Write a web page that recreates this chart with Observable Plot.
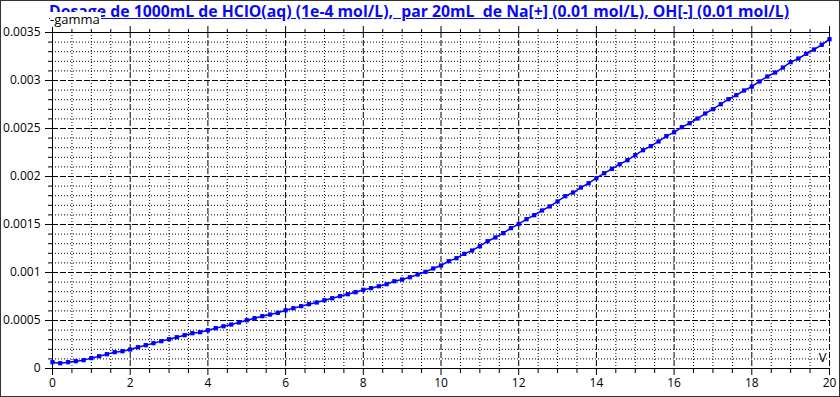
<!DOCTYPE html>
<html>
<head>
<meta charset="utf-8">
<script src="https://cdn.jsdelivr.net/npm/d3@7"></script>
<script src="https://cdn.jsdelivr.net/npm/@observablehq/plot@0.6"></script>
<style>
  html, body { margin: 0; padding: 0; background: white; }
  #wrap { position: relative; width: 840px; height: 397px; overflow: hidden; background: white; }
  #title { position: absolute; left: 49px; top: 0px; white-space: pre; font: bold 15.8px "Open Sans", sans-serif; line-height: 22px; color: #0a0aef; text-decoration: underline; }
  #ylab { position: absolute; left: 50px; top: 12px; background: white; font: 13px "Open Sans", sans-serif; color: #000; line-height: 15px; padding-right: 1px; }
  #frame { position: absolute; left: 0; top: 0; width: 840px; height: 397px; box-sizing: border-box; border: 1px solid #333; pointer-events: none; }
</style>
</head>
<body>
<div id="wrap">
  <div id="chart"></div>
  <div id="title"></div>
  <div id="ylab"></div>
  <div id="frame"></div>
</div>
<script>
const titleText = "Dosage de 1000mL de HClO(aq) (1e-4 mol/L),  par 20mL  de Na[+] (0.01 mol/L), OH[-] (0.01 mol/L)";
const yName = "-gamma";
const xName = "V";

const volume = [0,0.2,0.4,0.6,0.8,1,1.2,1.4,1.6,1.8,2,2.2,2.4,2.6,2.8,3,3.2,3.4,3.6,3.8,
  4,4.2,4.4,4.6,4.8,5,5.2,5.4,5.6,5.8,6,6.2,6.4,6.6,6.8,7,7.2,7.4,7.6,7.8,
  8,8.2,8.4,8.6,8.8,9,9.2,9.4,9.6,9.8,10,10.2,10.4,10.6,10.8,11,11.2,11.4,11.6,11.8,
  12,12.2,12.4,12.6,12.8,13,13.2,13.4,13.6,13.8,14,14.2,14.4,14.6,14.8,15,15.2,15.4,15.6,15.8,
  16,16.2,16.4,16.6,16.8,17,17.2,17.4,17.6,17.8,18,18.2,18.4,18.6,18.8,19,19.2,19.4,19.6,19.8,20];

const gamma = [0.000066,0.000055,0.000066,0.000076,0.000087,0.000108,0.000128,0.000149,0.00017,0.00018,
  0.000198,0.000222,0.000243,0.000264,0.000285,0.000305,0.000326,0.000347,0.000368,0.000378,
  0.000398,0.00042,0.00044,0.000458,0.000479,0.000503,0.000524,0.000545,0.000562,0.00058,
  0.000607,0.000628,0.000649,0.00067,0.000688,0.000711,0.000732,0.000753,0.000774,0.000795,
  0.00082,0.000837,0.000857,0.000878,0.000909,0.000927,0.000951,0.000979,0.001007,0.001042,
  0.001073,0.001118,0.001149,0.001194,0.001229,0.001274,0.001326,0.001365,0.00141,0.001462,
  0.001505,0.001555,0.001597,0.001646,0.001688,0.00174,0.001795,0.001833,0.001885,0.00193,
  0.001982,0.002034,0.00208,0.002128,0.00217,0.002222,0.002274,0.002316,0.002365,0.00242,
  0.00246,0.002514,0.002555,0.002604,0.002656,0.002701,0.002753,0.002805,0.002847,0.002896,
  0.002937,0.00299,0.003042,0.003083,0.003135,0.003191,0.003229,0.003278,0.003323,0.003372,0.00343];

const xMajorTicks = [0,2,4,6,8,10,12,14,16,18,20];
const xTickLabels = ["0","2","4","6","8","10","12","14","16","18","20"];
const xMinorTicks = [0.5,1,1.5,2.5,3,3.5,4.5,5,5.5,6.5,7,7.5,8.5,9,9.5,10.5,11,11.5,12.5,13,13.5,14.5,15,15.5,16.5,17,17.5,18.5,19,19.5];
const yMajorTicks = [0,0.0005,0.001,0.0015,0.002,0.0025,0.003,0.0035];
const yTickLabels = ["0","0.0005","0.001","0.0015","0.002","0.0025","0.003","0.0035"];
const yMinorTicks = [0.0001,0.0002,0.0003,0.0004,0.0006,0.0007,0.0008,0.0009,0.0011,0.0012,0.0013,0.0014,
  0.0016,0.0017,0.0018,0.0019,0.0021,0.0022,0.0023,0.0024,0.0026,0.0027,0.0028,0.0029,
  0.0031,0.0032,0.0033,0.0034];

const data = volume.map((v, i) => ({v, g: gamma[i]}));

document.getElementById("title").textContent = titleText;
document.getElementById("ylab").textContent = yName;

const blank = () => "";

const chart = Plot.plot({
  width: 840,
  height: 397,
  marginLeft: 52,
  marginRight: 11,
  marginTop: 32,
  marginBottom: 29,
  style: {fontFamily: "'Open Sans', sans-serif", fontSize: "12px", background: "white", color: "black", overflow: "visible"},
  x: {domain: [0, 20], label: null},
  y: {domain: [0, 0.0035], label: null},
  marks: [
    Plot.ruleX(xMinorTicks, {stroke: "black", strokeDasharray: "1,2", strokeWidth: 1}),
    Plot.ruleY(yMinorTicks, {stroke: "black", strokeDasharray: "1,2", strokeWidth: 1}),
    Plot.ruleX(xMajorTicks.filter(d => d > 0), {stroke: "black", strokeDasharray: "6,2", strokeWidth: 1}),
    Plot.ruleY(yMajorTicks.filter(d => d > 0 && d < 0.0035), {stroke: "black", strokeDasharray: "6,2", strokeWidth: 1}),
    Plot.ruleX([0], {stroke: "black", strokeWidth: 1}),
    Plot.ruleY([0, 0.0035], {stroke: "black", strokeWidth: 1}),
    Plot.axisX(xMinorTicks, {anchor: "bottom", tickSize: 5, tickFormat: blank, label: null}),
    Plot.axisX(xMajorTicks, {anchor: "bottom", tickSize: 7, tickPadding: 3, label: null,
      tickFormat: d => xTickLabels[xMajorTicks.indexOf(d)]}),
    Plot.axisX(xMinorTicks, {anchor: "top", tickSize: 4, tickFormat: blank, label: null}),
    Plot.axisX(xMajorTicks, {anchor: "top", tickSize: 7, tickFormat: blank, label: null}),
    Plot.axisY(yMinorTicks, {anchor: "left", tickSize: 4, tickFormat: blank, label: null}),
    Plot.axisY(yMajorTicks, {anchor: "left", tickSize: 7, tickPadding: 5, label: null,
      tickFormat: d => yTickLabels[yMajorTicks.indexOf(d)]}),
    Plot.line(data, {x: "v", y: "g", stroke: "#0000ff", strokeWidth: 1.5}),
    Plot.dot(data, {x: "v", y: "g", symbol: "square", r: 2.4, fill: "#0000ff", stroke: "none"}),
    Plot.text([xName], {frameAnchor: "bottom-right", textAnchor: "end", lineAnchor: "bottom", dx: -3, dy: -7, fontSize: 13, fill: "black"})
  ]
});
document.getElementById("chart").appendChild(chart);
</script>
</body>
</html>
